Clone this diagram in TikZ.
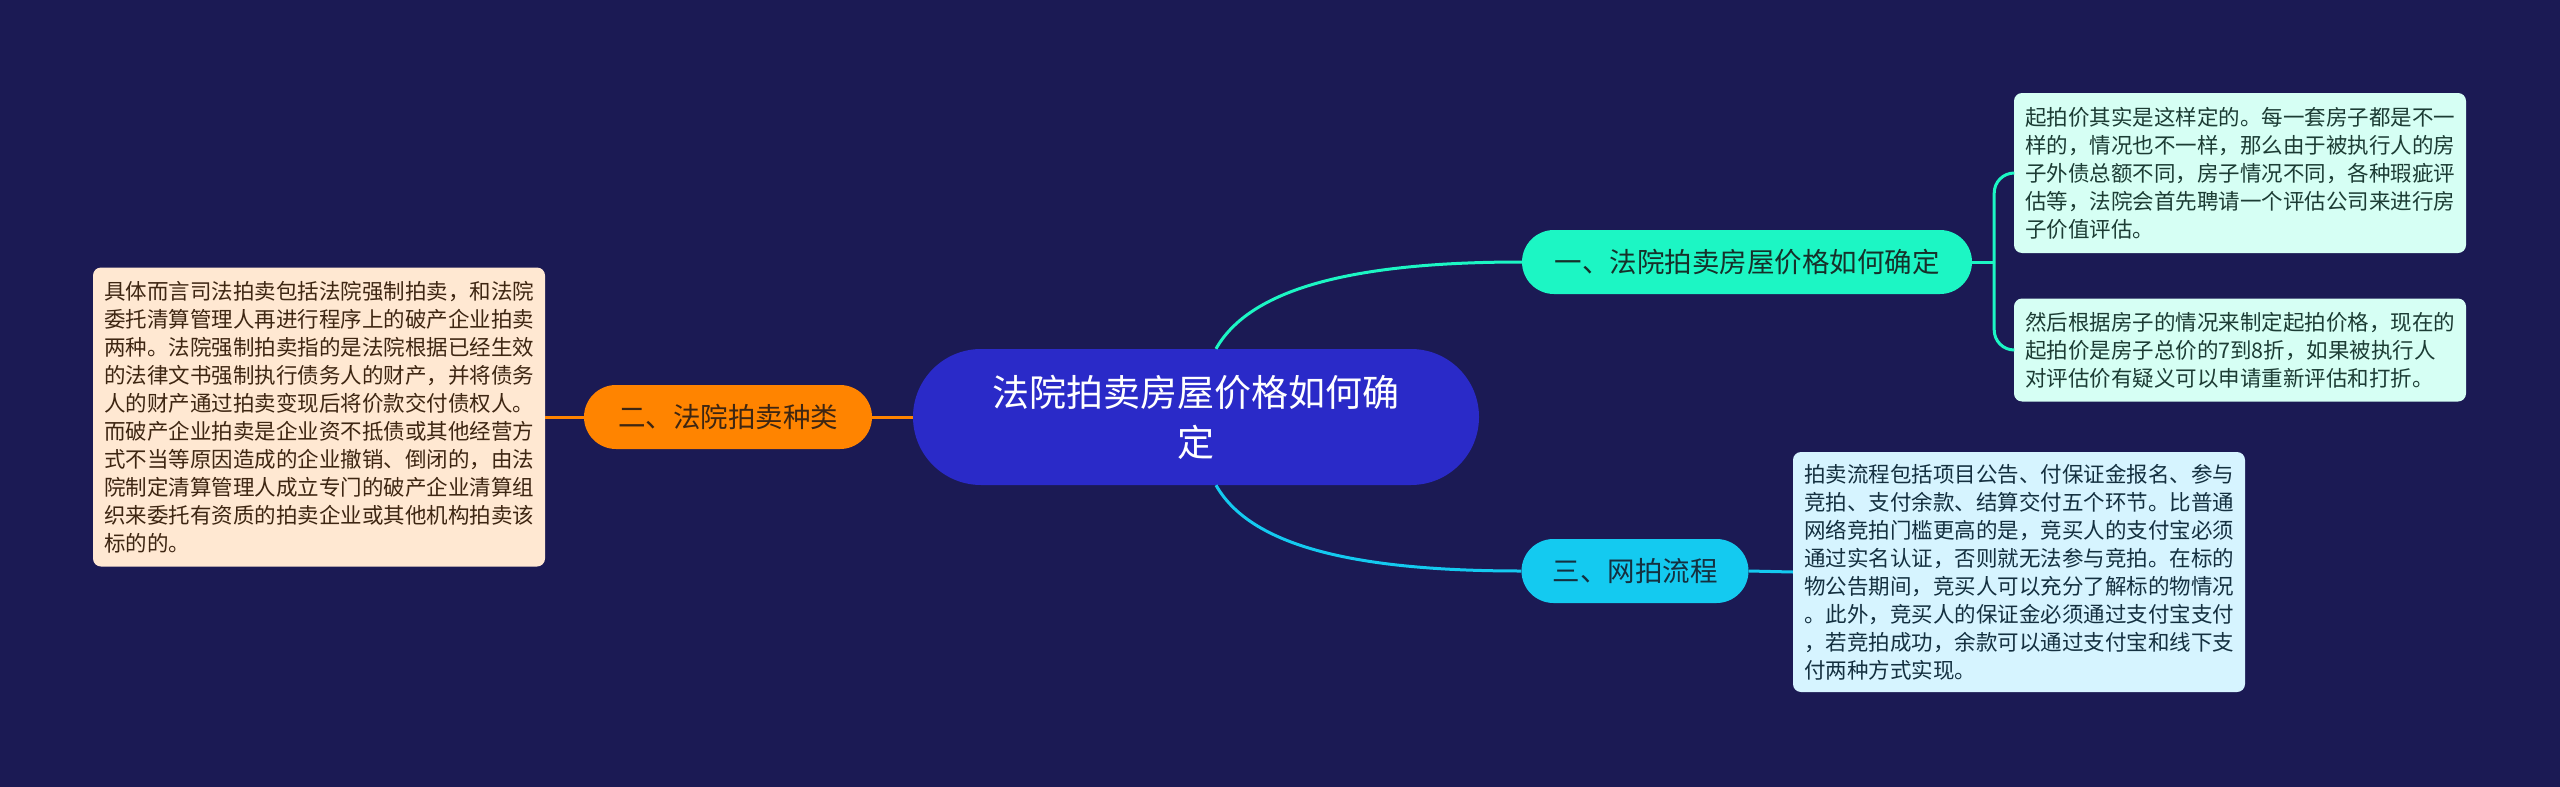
\documentclass[tikz,border=0pt]{standalone}
\usepackage{fontspec}
\usepackage{xcolor}
\newfontfamily\cjk{Noto Sans CJK SC}

\definecolor{bgnavy}{RGB}{27,26,84}
\definecolor{rootblue}{RGB}{42,42,200}
\definecolor{mint}{RGB}{28,246,196}
\definecolor{mintleaf}{RGB}{214,255,244}
\definecolor{mintink}{RGB}{28,60,52}
\definecolor{amber}{RGB}{255,132,0}
\definecolor{amberleaf}{RGB}{255,232,210}
\definecolor{amberink}{RGB}{62,38,18}
\definecolor{sky}{RGB}{20,202,240}
\definecolor{skyleaf}{RGB}{214,244,255}
\definecolor{skyink}{RGB}{20,48,64}

\begin{document}
\begin{tikzpicture}[x=1pt,y=-1pt,
    rootnode/.style={fill=rootblue,text=white,rounded corners=68pt,minimum width=566pt,
      minimum height=136pt,align=center,font=\cjk\fontsize{37}{50}\selectfont},
    branch/.style={rounded corners=32pt,minimum height=64pt,
      font=\cjk\fontsize{27.5}{33}\selectfont},
    leaf/.style={rounded corners=8pt,text width=430pt,inner xsep=11pt,align=left,
      font=\cjk\fontsize{21.5}{28}\selectfont},
    link/.style={line width=3pt}]

    % Background
    \useasboundingbox (0,0) rectangle (2560,787);
    \fill[bgnavy] (0,0) rectangle (2560,787);

    % Root and branches
    \node[rootnode] (root) at (1196,417) {法院拍卖房屋价格如何确\\定};
    \node[branch,fill=mint,text=mintink!80!black,minimum width=450pt] (b1) at (1747,262) {一、法院拍卖房屋价格如何确定};
    \node[branch,fill=amber,text=amberink,minimum width=288pt] (b2) at (728,417) {二、法院拍卖种类};
    \node[branch,fill=sky,text=skyink,minimum width=227pt] (b3) at (1635,571) {三、网拍流程};

    % Leaves
    \node[leaf,fill=mintleaf,text=mintink,minimum height=160pt] (l1) at (2240,173) {起拍价其实是这样定的。每一套房子都是不一\\
      样的，情况也不一样，那么由于被执行人的房\\
      子外债总额不同，房子情况不同，各种瑕疵评\\
      估等，法院会首先聘请一个评估公司来进行房\\
      子价值评估。};
    \node[leaf,fill=mintleaf,text=mintink,minimum height=103pt] (l2) at (2240,350) {然后根据房子的情况来制定起拍价格，现在的\\
      起拍价是房子总价的7到8折，如果被执行人\\
      对评估价有疑义可以申请重新评估和打折。};
    \node[leaf,fill=amberleaf,text=amberink,minimum height=299pt] (l0) at (319,417) {具体而言司法拍卖包括法院强制拍卖，和法院\\
      委托清算管理人再进行程序上的破产企业拍卖\\
      两种。法院强制拍卖指的是法院根据已经生效\\
      的法律文书强制执行债务人的财产，并将债务\\
      人的财产通过拍卖变现后将价款交付债权人。\\
      而破产企业拍卖是企业资不抵债或其他经营方\\
      式不当等原因造成的企业撤销、倒闭的，由法\\
      院制定清算管理人成立专门的破产企业清算组\\
      织来委托有资质的拍卖企业或其他机构拍卖该\\
      标的的。};
    \node[leaf,fill=skyleaf,text=skyink,minimum height=240pt] (l3) at (2019,572) {拍卖流程包括项目公告、付保证金报名、参与\\
      竞拍、支付余款、结算交付五个环节。比普通\\
      网络竞拍门槛更高的是，竞买人的支付宝必须\\
      通过实名认证，否则就无法参与竞拍。在标的\\
      物公告期间，竞买人可以充分了解标的物情况\\
      。此外，竞买人的保证金必须通过支付宝支付\\
      ，若竞拍成功，余款可以通过支付宝和线下支\\
      付两种方式实现。};

    % Connectors
    \draw[link,mint] ([xshift=20pt]root.north) .. controls +(34,-60) and +(-170,0) .. (b1.west);
    \draw[link,sky] ([xshift=20pt]root.south) .. controls +(34,60) and +(-170,0) .. (b3.west);
    \draw[link,amber] (b2.east) -- (root.west);
    \draw[link,amber] (l0.east) -- (b2.west);
    \draw[link,mint] (b1.east) -- ++(22,0) coordinate (fork);
    \draw[link,mint,rounded corners=20pt] (fork) |- (l1.west);
    \draw[link,mint,rounded corners=20pt] (fork) |- (l2.west);
    \draw[link,sky] (b3.east) -- (l3.west);
\end{tikzpicture}
\end{document}
